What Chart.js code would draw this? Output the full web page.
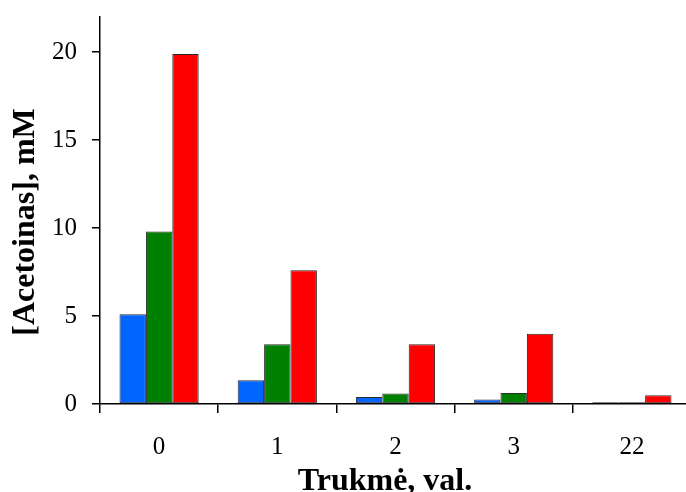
<!DOCTYPE html>
<html>
<head>
<meta charset="utf-8">
<script src="https://cdn.jsdelivr.net/npm/chart.js@4/dist/chart.umd.min.js"></script>
<style>
  html, body { margin: 0; padding: 0; background: #fff; overflow: hidden; }
  canvas { display: block; }
</style>
</head>
<body>
<canvas id="c" width="700" height="492"></canvas>
<script>
// Sampling times (h) and acetoin concentrations (mM) for three series
const categories = ['0', '1', '2', '3', '22'];
const seriesBlue  = [5.1, 1.35, 0.4, 0.25, 0.1];
const seriesGreen = [9.8, 3.4, 0.6, 0.62, 0.1];
const seriesRed   = [19.9, 7.6, 3.4, 4.0, 0.5];
const yTicks = [0, 5, 10, 15, 20];
const yMax = 22;

const xTitle = 'Trukmė, val.';
const yTitle = '[Acetoinas], mM';

const serif = "'Liberation Serif', 'Times New Roman', serif";

// Axis titles drawn relative to the plot area
const axisTitles = {
  id: 'axisTitles',
  afterDraw(chart) {
    const { ctx, chartArea } = chart;
    ctx.save();
    ctx.fillStyle = '#000';
    ctx.font = `bold 32px ${serif}`;
    ctx.textAlign = 'center';
    ctx.textBaseline = 'alphabetic';
    ctx.fillText(xTitle, chartArea.left + 285, chartArea.bottom + 86);
    ctx.translate(chartArea.left - 66, chartArea.top + 205);
    ctx.rotate(-Math.PI / 2);
    ctx.fillText(yTitle, 0, 0);
    ctx.restore();
  }
};

const bar = (data, color) => ({
  data,
  backgroundColor: color,
  borderColor: '#2a2a2a',
  borderWidth: 1,
  borderSkipped: false,
  categoryPercentage: 0.67,
  barPercentage: 1.0
});

new Chart(document.getElementById('c'), {
  type: 'bar',
  data: {
    labels: categories,
    datasets: [
      bar(seriesBlue, '#0066ff'),
      bar(seriesGreen, '#008000'),
      bar(seriesRed, '#ff0000')
    ]
  },
  options: {
    responsive: false,
    animation: false,
    layout: { padding: { top: 17, right: 9, left: 0, bottom: 0 } },
    plugins: { legend: { display: false }, tooltip: { enabled: false } },
    scales: {
      x: {
        offset: true,
        grid: {
          display: true,
          offset: true,
          drawOnChartArea: false,
          drawTicks: true,
          tickLength: 9,
          color: '#000',
          lineWidth: 1.5
        },
        border: { display: true, color: '#000', width: 1.5 },
        ticks: {
          color: '#000',
          padding: 19,
          font: { family: serif, size: 25 }
        },
        afterFit(scale) {
          scale.height = 88;
          scale.paddingLeft = 0;
          scale.paddingRight = 0;
        }
      },
      y: {
        min: 0,
        max: yMax,
        grid: {
          display: true,
          drawOnChartArea: false,
          drawTicks: true,
          tickLength: 8,
          color: '#000',
          lineWidth: 1.5
        },
        border: { display: true, color: '#000', width: 1.5 },
        ticks: {
          color: '#000',
          padding: 15,
          font: { family: serif, size: 25 }
        },
        afterBuildTicks(scale) { scale.ticks = yTicks.map(v => ({ value: v })); },
        afterFit(scale) {
          scale.width = 100;
          scale.paddingTop = 0;
          scale.paddingBottom = 0;
        }
      }
    }
  },
  plugins: [axisTitles]
});
</script>
</body>
</html>
